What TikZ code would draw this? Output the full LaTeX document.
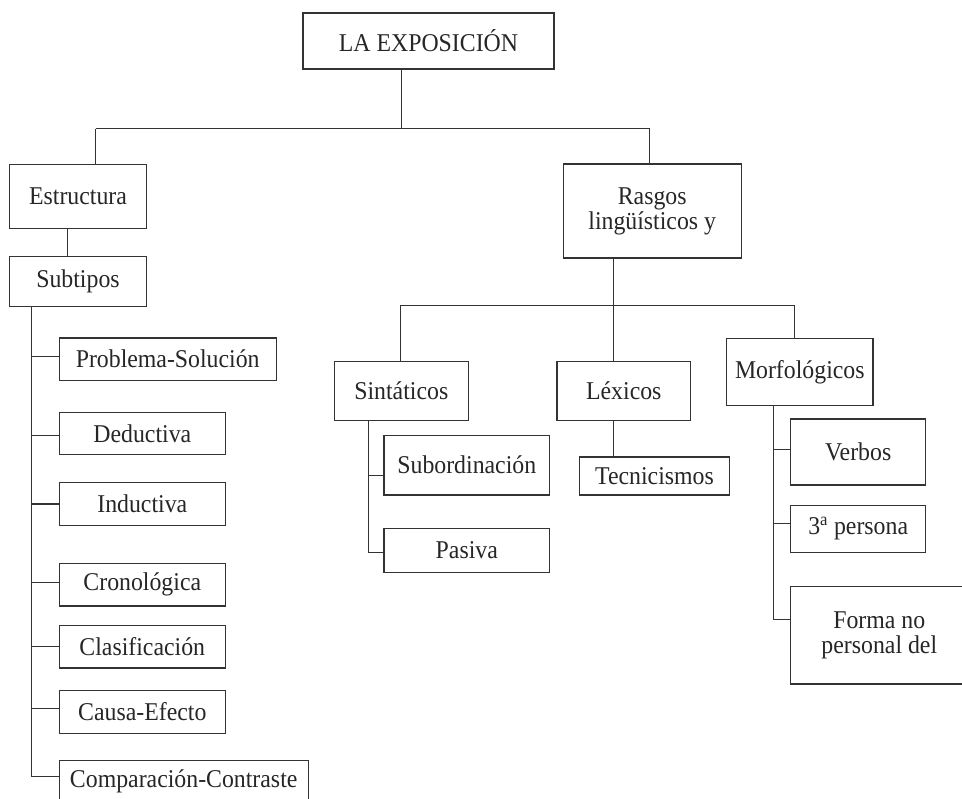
\documentclass[tikz,border=0pt]{standalone}
\usepackage{fontspec}
\setmainfont[FakeStretch=0.93]{Liberation Serif}
\begin{document}
\begin{tikzpicture}[x=1pt,y=-1pt,
  box/.style={draw=black!80, line width=1.1pt, rectangle, inner sep=0pt, align=center,
    text=black!85, font=\fontsize{25.6}{25}\selectfont},
  conn/.style={draw=black!80, line width=1.1pt}]
\useasboundingbox (0,0) rectangle (962,799);
\clip (0,0) rectangle (962,799);
% nodes
\node[box, minimum width=251pt, minimum height=56pt] (root) at (428.5,41) {LA EXPOSICIÓN};
\node[box, minimum width=136.6pt, minimum height=64pt] (estr) at (78,196.7) {Estructura};
\node[box, minimum width=136.6pt, minimum height=50pt] (subt) at (78,281.7) {Subtipos};
\node[box, minimum width=178.3pt, minimum height=94pt] (rasgos) at (652.2,211) {Rasgos\\lingüísticos y};
\node[box, minimum width=134pt, minimum height=59.4pt] (sint) at (401.3,391) {Sintáticos};
\node[box, minimum width=133.7pt, minimum height=59.4pt] (lex) at (623.8,391) {Léxicos};
\node[box, minimum width=149.6pt, minimum height=38pt] (tecn) at (654.5,476) {Tecnicismos};
\node[box, minimum width=146.3pt, minimum height=66.7pt] (morf) at (799.8,372.3) {Morfológicos};
\node[box, minimum width=165.7pt, minimum height=59.7pt] (subo) at (466.8,465.2) {Subordinación};
\node[box, minimum width=165.7pt, minimum height=44pt] (pasiva) at (466.8,550.3) {Pasiva};
\node[box, minimum width=135pt, minimum height=66pt] (verbos) at (858.2,452) {Verbos};
\node[box, minimum width=135pt, minimum height=47.4pt] (pers) at (858.2,529) {3\textsuperscript{a} persona};
\node[box, minimum width=177.3pt, minimum height=97.3pt] (forma) at (879.3,635.3) {Forma no\\personal del};
\node[box, minimum width=216.7pt, minimum height=42.3pt] (prob) at (167.7,359.2) {Problema-Solución};
\node[box, minimum width=166pt, minimum height=42.3pt] (ded) at (142.3,433.8) {Deductiva};
\node[box, minimum width=166pt, minimum height=42.6pt] (ind) at (142.3,504) {Inductiva};
\node[box, minimum width=166pt, minimum height=42.3pt] (cron) at (142.3,584.8) {Cronológica};
\node[box, minimum width=166pt, minimum height=42.3pt] (clas) at (142.3,646.8) {Clasificación};
\node[box, minimum width=166pt, minimum height=42.7pt] (causa) at (142.3,711.7) {Causa-Efecto};
\node[box, minimum width=248.7pt, minimum height=42.3pt] (comp) at (183.7,781.8) {Comparación-Contraste};
% junction coordinates
\coordinate (b1) at (401.3,128.7);
\coordinate (b1l) at (95.7,128.7);
\coordinate (b1r) at (649.7,128.7);
\coordinate (c1) at (67.7,0);
\coordinate (s0) at (31.7,776.7);
\coordinate (b2) at (613.3,305.3);
\coordinate (b2l) at (400.3,305.3);
\coordinate (b2r) at (794.7,305.3);
\coordinate (sc) at (368.7,552.7);
\coordinate (mc) at (773.3,619.3);
% connectors
\draw[conn] (root.south -| b1) -- (b1);
\draw[conn] (b1l) -- (b1r);
\draw[conn] (b1l) -- (estr.north -| b1l);
\draw[conn] (b1r) -- (rasgos.north -| b1r);
\draw[conn] (estr.south -| c1) -- (subt.north -| c1);
\draw[conn] (subt.south -| s0) -- (s0);
\draw[conn] ([yshift=2.5pt]prob.west) -- ([yshift=2.5pt]prob.west -| s0);
\draw[conn] ([yshift=-1.9pt]ded.west) -- ([yshift=-1.9pt]ded.west -| s0);
\draw[conn] (ind.west) -- (ind.west -| s0);
\draw[conn] ([yshift=2.1pt]cron.west) -- ([yshift=2.1pt]cron.west -| s0);
\draw[conn] (clas.west) -- (clas.west -| s0);
\draw[conn] ([yshift=3.4pt]causa.west) -- ([yshift=3.4pt]causa.west -| s0);
\draw[conn] (comp.west |- s0) -- (s0);
\draw[conn] (rasgos.south -| b2) -- (lex.north -| b2);
\draw[conn] (b2l) -- (b2r);
\draw[conn] (b2l) -- (sint.north -| b2l);
\draw[conn] (b2r) -- (morf.north -| b2r);
\draw[conn] (lex.south -| b2) -- (tecn.north -| b2);
\draw[conn] (sint.south -| sc) -- (sc);
\draw[conn] ([yshift=-10.1pt]subo.west) -- ([yshift=-10.1pt]subo.west -| sc);
\draw[conn] (pasiva.west |- sc) -- (sc);
\draw[conn] (morf.south -| mc) -- (mc);
\draw[conn] ([yshift=2.7pt]verbos.west) -- ([yshift=2.7pt]verbos.west -| mc);
\draw[conn] ([yshift=5.7pt]pers.west) -- ([yshift=5.7pt]pers.west -| mc);
\draw[conn] (forma.west |- mc) -- (mc);
\end{tikzpicture}
\end{document}
